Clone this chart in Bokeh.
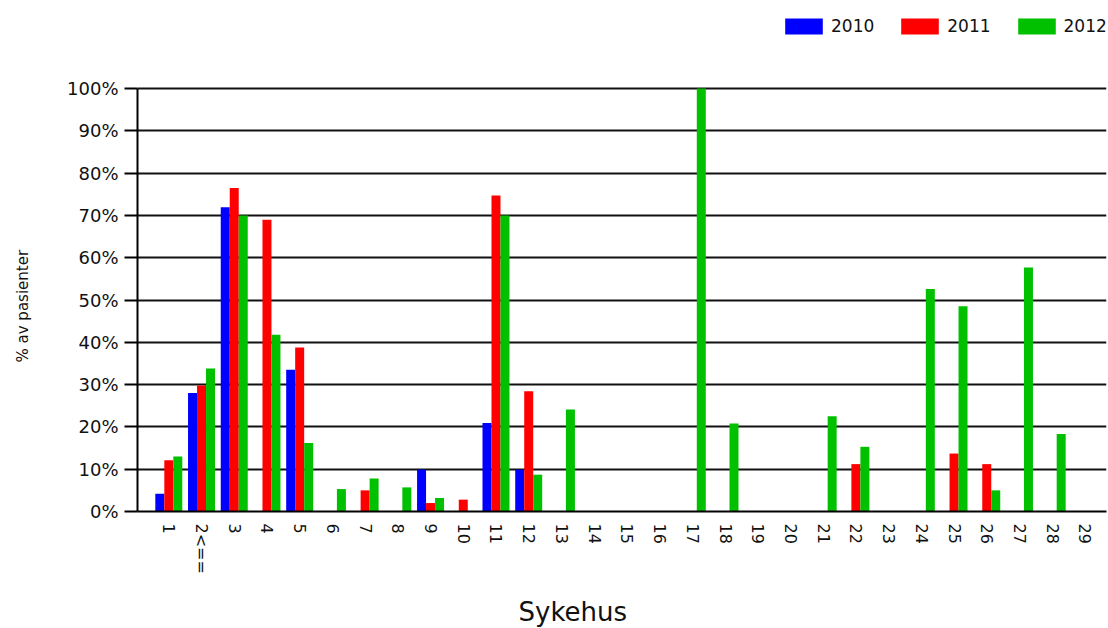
import math
from bokeh.plotting import figure
from bokeh.models import ColumnDataSource, Range1d, Legend, LegendItem, FixedTicker, Title
from bokeh.transform import dodge
from bokeh.embed import file_html
from bokeh.resources import INLINE

categories = ["1", "2<==", "3", "4", "5", "6", "7", "8", "9", "10",
              "11", "12", "13", "14", "15", "16", "17", "18", "19", "20",
              "21", "22", "23", "24", "25", "26", "27", "28", "29"]
years = ["2010", "2011", "2012"]
v2010 = [4.2, 28.0, 71.9, 0, 33.5, 0, 0, 0, 9.9, 0,
         20.9, 9.9, 0, 0, 0, 0, 0, 0, 0, 0,
         0, 0, 0, 0, 0, 0, 0, 0, 0]
v2011 = [12.1, 29.8, 76.5, 69.0, 38.8, 0, 5.0, 0, 2.0, 2.8,
         74.7, 28.4, 0, 0, 0, 0, 0, 0, 0, 0,
         0, 11.2, 0, 0, 13.7, 11.2, 0, 0, 0]
v2012 = [13.0, 33.8, 70.0, 41.8, 16.2, 5.3, 7.8, 5.7, 3.2, 0,
         70.0, 8.7, 24.1, 0, 0, 0, 100.0, 20.8, 0, 0,
         22.5, 15.3, 0, 52.6, 48.5, 5.0, 57.7, 18.3, 0]
colors = ["#0000FF", "#FF0000", "#00C000"]
y_ticks = [0, 10, 20, 30, 40, 50, 60, 70, 80, 90, 100]
y_tick_labels = ["0%", "10%", "20%", "30%", "40%", "50%", "60%", "70%", "80%", "90%", "100%"]
x_title = "Sykehus"
y_title = "% av pasienter"

FONT = "DejaVu Sans"
xs = list(range(1, len(categories) + 1))
src = ColumnDataSource(dict(x=xs, v2010=v2010, v2011=v2011, v2012=v2012))

# frame: left 137, right 1106, top 10 (legend lives inside), 100% at 88, 0% at 511
p = figure(width=1108, height=628, output_backend="svg", toolbar_location=None,
           x_range=Range1d(0.043, 29.66), y_range=Range1d(0, 118.44),
           min_border_left=137, min_border_right=2, min_border_top=10,
           min_border_bottom=117)
p.outline_line_color = None

bw = 0.275
rends = []
for i, (yr, col) in enumerate(zip(years, colors)):
    r = p.vbar(x=dodge("x", (i - 1) * bw), top="v" + yr, width=bw, source=src,
               fill_color=col, line_color=None)
    rends.append(r)

# grid
p.xgrid.visible = False
p.ygrid.ticker = FixedTicker(ticks=y_ticks)
p.ygrid.grid_line_color = "#111111"
p.ygrid.grid_line_width = 2

# y axis
ya = p.yaxis[0]
ya.ticker = FixedTicker(ticks=y_ticks)
ya.bounds = (0, 100)
ya.major_label_overrides = {t: l for t, l in zip(y_ticks, y_tick_labels)}
ya.major_label_text_font = FONT
ya.major_label_text_font_size = "18px"
ya.major_label_text_color = "#111111"
ya.major_tick_out = 13
ya.major_tick_in = 0
ya.major_tick_line_width = 2
ya.major_label_standoff = 6
ya.minor_tick_line_color = None
ya.axis_line_width = 2
ya.axis_line_color = "black"

# x axis
xa = p.xaxis[0]
xa.ticker = FixedTicker(ticks=xs)
xa.major_label_overrides = {x: c for x, c in zip(xs, categories)}
xa.major_label_orientation = -math.pi / 2
xa.major_label_text_font = FONT
xa.major_label_text_font_size = "16px"
xa.major_label_text_color = "#111111"
xa.major_tick_line_color = None
xa.minor_tick_line_color = None
xa.major_label_standoff = 6
xa.axis_line_width = 2
xa.axis_line_color = "black"

has_standoff = "standoff" in Title.properties()

def make_title(text, size, standoff, color="#111111", **kw):
    t = Title(text=text, text_font=FONT, text_font_size=size,
              text_font_style="normal", text_color=color, **kw)
    if has_standoff:
        t.standoff = standoff
    return t

# x title (below): blank spacer then title
p.add_layout(make_title(" ", "10px", 4, color="#ffffff"), "below")
p.add_layout(make_title(x_title, "26px", 3, align="left", offset=381), "below")

# y title (left): blank spacer then title
p.add_layout(make_title(" ", "10px", 19, color="#ffffff"), "left")
p.add_layout(make_title(y_title, "15px", 2, align="left", offset=149), "left")

legend = Legend(items=[LegendItem(label=yr, renderers=[r]) for yr, r in zip(years, rends)],
                orientation="horizontal", location=(643, 475),
                glyph_width=47, glyph_height=20, label_standoff=4, spacing=22,
                padding=0, margin=0, border_line_color=None, background_fill_alpha=0,
                label_text_font=FONT, label_text_font_size="17px",
                label_text_color="#111111", label_height=16)
p.add_layout(legend)

open("out.html", "w").write(file_html(p, INLINE))
